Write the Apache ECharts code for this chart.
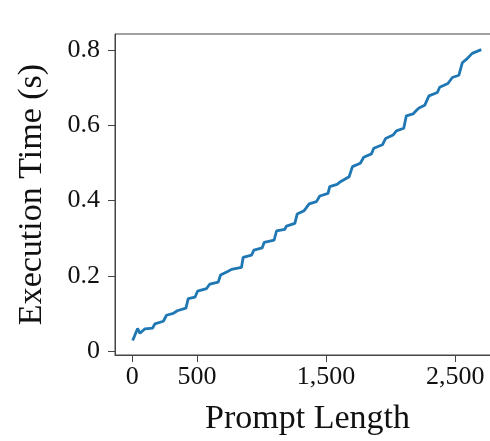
<!DOCTYPE html>
<html>
<head>
<meta charset="utf-8">
<script src="https://cdn.jsdelivr.net/npm/echarts@6/dist/echarts.min.js"></script>
<style>html,body{margin:0;padding:0;background:#fff;}#c{width:490px;height:441px;}</style>
</head>
<body>
<div id="c"></div>
<script>
const promptLength = [3,41,59,98,157,175,240,265,317,348,415,433,485,505,575,600,665,683,742,768,845,858,923,941,1005,1021,1098,1116,1180,1193,1258,1276,1330,1369,1425,1451,1515,1528,1585,1611,1678,1704,1765,1791,1851,1869,1936,1961,2018,2044,2101,2121,2173,2198,2219,2263,2296,2361,2379,2443,2477,2528,2554,2585,2631,2701];
const execTime = [0.028,0.060,0.047,0.059,0.061,0.072,0.079,0.095,0.100,0.107,0.114,0.139,0.143,0.159,0.166,0.178,0.183,0.202,0.212,0.217,0.222,0.249,0.255,0.268,0.274,0.289,0.295,0.319,0.323,0.332,0.339,0.364,0.373,0.391,0.397,0.412,0.419,0.437,0.443,0.450,0.463,0.490,0.499,0.515,0.524,0.539,0.548,0.565,0.574,0.585,0.592,0.625,0.630,0.639,0.646,0.653,0.678,0.687,0.701,0.711,0.727,0.733,0.766,0.775,0.791,0.801];
const xTicks = [0,500,1500,2500];
const yTicks = [0,0.2,0.4,0.6,0.8];
const xTitle = 'Prompt Length';
const yTitle = 'Execution Time (s)';

const font = 'Liberation Serif';
const chart = echarts.init(document.getElementById('c'), null, {renderer:'canvas'});
chart.setOption({
  animation:false,
  grid:{left:115, top:34, width:385, height:321, show:true, borderColor:'#444', borderWidth:1, containLabel:false, outerBoundsMode:'none'},
  xAxis:{
    type:'value', min:-134, max:2846,
    name:xTitle, nameLocation:'middle', nameGap:47,
    nameTextStyle:{fontFamily:font, fontSize:34, color:'#111'},
    axisLine:{show:true, onZero:false, lineStyle:{color:'#444', width:1}},
    axisTick:{show:true, inside:false, length:7, customValues:xTicks, lineStyle:{color:'#444'}},
    axisLabel:{customValues:xTicks, margin:9, fontFamily:font, fontSize:26, color:'#111',
      formatter:v=>Number(v).toLocaleString('en-US')},
    splitLine:{show:false}
  },
  yAxis:{
    type:'value', min:-0.0106, max:0.8425,
    name:yTitle, nameLocation:'middle', nameGap:66,
    nameTextStyle:{fontFamily:font, fontSize:34, color:'#111'},
    axisLine:{show:true, onZero:false, lineStyle:{color:'#444', width:1}},
    axisTick:{show:true, inside:false, length:7, customValues:yTicks, lineStyle:{color:'#444'}},
    axisLabel:{customValues:yTicks, margin:15, fontFamily:font, fontSize:26, color:'#111',
      formatter:v=>(Math.abs(v)<1e-9?'0':Number(v).toFixed(1))},
    splitLine:{show:false}
  },
  series:[{
    type:'line', data:promptLength.map((x,i)=>[x,execTime[i]]),
    showSymbol:false, symbol:'none', lineStyle:{color:'#1f77b4', width:2.8}, clip:true
  }]
});
</script>
</body>
</html>
